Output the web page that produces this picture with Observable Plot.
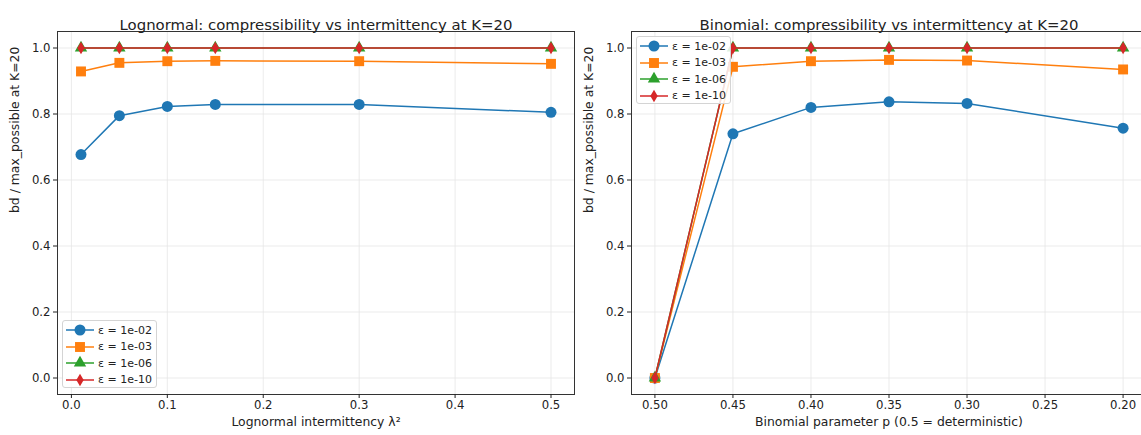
<!DOCTYPE html>
<html><head><meta charset="utf-8">
<script src="https://cdn.jsdelivr.net/npm/d3@7"></script>
<script src="https://cdn.jsdelivr.net/npm/@observablehq/plot@0.6"></script>
<style>
body{margin:0;background:#fff;font-family:"DejaVu Sans",sans-serif;}
#wrap{position:relative;width:1141px;height:435px;overflow:hidden;background:#fff}
.panel{position:absolute;top:0}
.legend{position:absolute;border:1px solid #d4d4d4;border-radius:3px;background:rgba(255,255,255,0.85);font-size:11px;color:#222;box-sizing:border-box}
.legend .row{position:absolute;left:3px;height:16px;display:flex;align-items:center;white-space:nowrap}
.legend .row span{margin-left:4px}
</style></head><body><div id="wrap"></div>
<script>
// ---- data ----
const epsLabels = ["ε = 1e-02", "ε = 1e-03", "ε = 1e-06", "ε = 1e-10"];
const colors = ["#1f77b4", "#ff7f0e", "#2ca02c", "#d62728"];

const lambda2 = [0.01, 0.05, 0.10, 0.15, 0.30, 0.50];
const lnEps1e2 = [0.677, 0.795, 0.823, 0.829, 0.829, 0.805];
const lnEps1e3 = [0.929, 0.955, 0.960, 0.961, 0.960, 0.952];
const lnEps1e6 = [1.0, 1.0, 1.0, 1.0, 1.0, 1.0];
const lnEps1e10 = [1.0, 1.0, 1.0, 1.0, 1.0, 1.0];

const binomP = [0.50, 0.45, 0.40, 0.35, 0.30, 0.20];
const bnEps1e2 = [0.0, 0.740, 0.820, 0.837, 0.832, 0.757];
const bnEps1e3 = [0.0, 0.943, 0.960, 0.964, 0.962, 0.935];
const bnEps1e6 = [0.0, 1.0, 1.0, 1.0, 1.0, 1.0];
const bnEps1e10 = [0.0, 1.0, 1.0, 1.0, 1.0, 1.0];

const yTicks = [0.0, 0.2, 0.4, 0.6, 0.8, 1.0];
const lnTicks = [0.0, 0.1, 0.2, 0.3, 0.4, 0.5];
const bnTicks = [0.50, 0.45, 0.40, 0.35, 0.30, 0.25, 0.20];

const lnTitle = "Lognormal: compressibility vs intermittency at K=20";
const bnTitle = "Binomial: compressibility vs intermittency at K=20";
const lnXLabel = "Lognormal intermittency λ²";
const bnXLabel = "Binomial parameter p (0.5 = deterministic)";
const yLabel = "bd / max_possible at K=20";

// ---- styles ----
const thinDiamond = {
  draw(ctx, size) {
    const r = Math.sqrt(size / Math.PI);
    const h = r * 1.12, w = r * 0.66;
    ctx.moveTo(0, -h); ctx.lineTo(w, 0); ctx.lineTo(0, h); ctx.lineTo(-w, 0); ctx.closePath();
  }
};
const symbols = ["circle", "square", "triangle", thinDiamond];
const radii = [5.5, 5.6, 4.6, 5.6];
const d3Symbols = [d3.symbolCircle, d3.symbolSquare, d3.symbolTriangle, thinDiamond];
const FS = 11.7;
const LFS = 12.4;

const wrap = document.getElementById("wrap");

function panel({xs, series, domain, ticks, fmt, title, xlabel, width, ml, mr, left}) {
  const marks = [
    Plot.gridX(ticks, {stroke: "#e6e6e6", strokeOpacity: 1, strokeWidth: 0.8}),
    Plot.gridY(yTicks, {stroke: "#e6e6e6", strokeOpacity: 1, strokeWidth: 0.8}),
  ];
  series.forEach((vals, i) => {
    const data = xs.map((x, j) => ({x, y: vals[j]}));
    marks.push(Plot.line(data, {x: "x", y: "y", stroke: colors[i], strokeWidth: 1.5}));
    marks.push(Plot.dot(data, {x: "x", y: "y", fill: colors[i], r: radii[i], symbol: symbols[i]}));
  });
  marks.push(
    Plot.frame({stroke: "#333", strokeWidth: 1}),
    Plot.axisX(ticks, {tickSize: 4, tickPadding: 2, tickFormat: fmt, label: null, fontSize: FS}),
    Plot.axisY(yTicks, {tickSize: 4, tickPadding: 3, tickFormat: d3.format(".1f"), label: null, fontSize: FS}),
    Plot.text([title], {text: d => d, frameAnchor: "top", dy: -12, fontSize: 14.9}),
    Plot.text([xlabel], {text: d => d, frameAnchor: "bottom", dy: 31, fontSize: LFS}),
    Plot.text([yLabel], {text: d => d, frameAnchor: "left", dx: -42, rotate: -90, fontSize: LFS})
  );
  const svg = Plot.plot({
    width, height: 435,
    marginLeft: ml, marginRight: mr, marginTop: 31, marginBottom: 41,
    x: {domain, ticks},
    y: {domain: [-0.05, 1.05]},
    style: {fontFamily: "DejaVu Sans", fontSize: FS + "px", color: "#222", background: "transparent", overflow: "visible"},
    marks
  });
  svg.classList.add("panel");
  svg.style.left = left + "px";
  wrap.appendChild(svg);
}

function legend(left, top) {
  const div = document.createElement("div");
  div.className = "legend";
  div.style.left = left + "px"; div.style.top = top + "px";
  div.style.width = "95px"; div.style.height = "68px";
  epsLabels.forEach((lab, i) => {
    const row = document.createElement("div");
    row.className = "row";
    row.style.top = (1 + i * 16.5) + "px";
    const s = d3.create("svg").attr("width", 28).attr("height", 16);
    s.append("line").attr("x1", 0).attr("x2", 28).attr("y1", 8).attr("y2", 8)
      .attr("stroke", colors[i]).attr("stroke-width", 1.5);
    s.append("path").attr("transform", "translate(14,8)")
      .attr("d", d3.symbol(d3Symbols[i], Math.PI * radii[i] * radii[i])())
      .attr("fill", colors[i]);
    row.appendChild(s.node());
    const t = document.createElement("span");
    t.textContent = lab;
    row.appendChild(t);
    div.appendChild(row);
  });
  wrap.appendChild(div);
}

panel({xs: lambda2, series: [lnEps1e2, lnEps1e3, lnEps1e6, lnEps1e10],
  domain: [-0.0145, 0.5245], ticks: lnTicks, fmt: d3.format(".1f"),
  title: lnTitle, xlabel: lnXLabel, width: 580, ml: 57, mr: 6, left: 0});
panel({xs: binomP, series: [bnEps1e2, bnEps1e3, bnEps1e6, bnEps1e10],
  domain: [0.515, 0.185], ticks: bnTicks, fmt: d3.format(".2f"),
  title: bnTitle, xlabel: bnXLabel, width: 575, ml: 56, mr: 4, left: 575});
legend(62, 320);
legend(636, 36);
</script></body></html>
